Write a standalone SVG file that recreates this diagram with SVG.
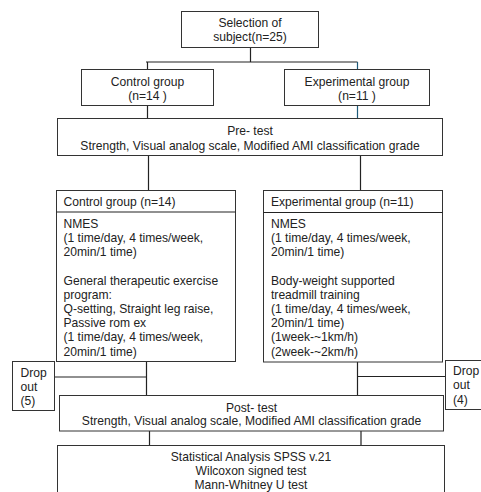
<svg xmlns="http://www.w3.org/2000/svg" width="481" height="492" viewBox="0 0 481 492">
<style>
.box{fill:#fff;stroke:#333;stroke-width:1}
.ln{fill:none;stroke:#222;stroke-width:1.2}
.bl{stroke:#1d5a7a}
text{font-family:"Liberation Sans",Arial,sans-serif;font-size:12.1px;fill:#222}
.c{text-anchor:middle}
</style>
<rect width="481" height="492" fill="#fff"/>
<g id="connectors">
<path class="ln" d="M250.5 47.5V62M146 62H357.5M147.5 62V69.5M147.5 105.5V118.5M148.5 155.5V190.5M360.5 155.5V190.5M146.5 361.5V395.5M54.5 377H146.5M357.5 362V395.5M357.5 376.5H445.5M149.5 431V445.5M361 431V445.5"/>
<path class="ln bl" d="M357.5 62V69.5M357.5 105.5V118.5"/>
</g>
<g id="selection">
<rect class="box" x="181.5" y="11.5" width="137" height="36"/>
<text class="c"><tspan x="250" y="27">Selection of</tspan><tspan x="250" y="41">subject(n=25)</tspan></text>
</g>
<g id="control1">
<rect class="box" x="81.5" y="69.5" width="132" height="36"/>
<text class="c"><tspan x="147.5" y="85.5">Control group</tspan><tspan x="147.5" y="100">(n=14 )</tspan></text>
</g>
<g id="experimental1">
<rect class="box" x="284.5" y="69.5" width="145" height="36"/>
<text class="c"><tspan x="357" y="85.5">Experimental group</tspan><tspan x="357" y="100">(n=11 )</tspan></text>
</g>
<g id="pretest">
<rect class="box" x="57.5" y="118.5" width="385" height="37"/>
<text class="c"><tspan x="250" y="135">Pre- test</tspan><tspan x="250" y="150">Strength, Visual analog scale, Modified AMI classification grade</tspan></text>
</g>
<g id="control2">
<rect class="box" x="56.5" y="190.5" width="179" height="171"/>
<path class="ln" d="M56.5 212H235.5"/>
<text x="63.5" y="206">Control group (n=14)</text>
<text><tspan x="63.5" y="227.7">NMES</tspan><tspan x="63.5" y="241.9">(1 time/day, 4 times/week,</tspan><tspan x="63.5" y="256.1">20min/1 time)</tspan><tspan x="63.5" y="284.5">General therapeutic exercise</tspan><tspan x="63.5" y="298.7">program:</tspan><tspan x="63.5" y="312.9">Q-setting, Straight leg raise,</tspan><tspan x="63.5" y="327.1">Passive rom ex</tspan><tspan x="63.5" y="341.3">(1 time/day, 4 times/week,</tspan><tspan x="63.5" y="355.5">20min/1 time)</tspan></text>
</g>
<g id="experimental2">
<rect class="box" x="263.5" y="190.5" width="179" height="171.5"/>
<path class="ln" d="M263.5 212.5H442.5"/>
<text x="271" y="206">Experimental group (n=11)</text>
<text><tspan x="271" y="227.7">NMES</tspan><tspan x="271" y="241.9">(1 time/day, 4 times/week,</tspan><tspan x="271" y="256.1">20min/1 time)</tspan><tspan x="271" y="284.5">Body-weight supported</tspan><tspan x="271" y="298.7">treadmill training</tspan><tspan x="271" y="312.9">(1 time/day, 4 times/week,</tspan><tspan x="271" y="327.1">20min/1 time)</tspan><tspan x="271" y="341.3">(1week-~1km/h)</tspan><tspan x="271" y="355.5">(2week-~2km/h)</tspan></text>
</g>
<g id="dropout-left">
<rect class="box" x="12.5" y="361.5" width="42" height="49"/>
<text><tspan x="20.5" y="376.5">Drop</tspan><tspan x="20.5" y="390.8">out</tspan><tspan x="20.5" y="405.1">(5)</tspan></text>
</g>
<g id="dropout-right">
<rect class="box" x="445.5" y="360.5" width="60" height="49"/>
<text><tspan x="453" y="375.4">Drop</tspan><tspan x="453" y="389.4">out</tspan><tspan x="453" y="404.2">(4)</tspan></text>
</g>
<g id="posttest">
<rect class="box" x="59.5" y="395.5" width="384" height="35.5"/>
<text class="c"><tspan x="251.5" y="411.7">Post- test</tspan><tspan x="251.5" y="425.4">Strength, Visual analog scale, Modified AMI classification grade</tspan></text>
</g>
<g id="statistics">
<rect class="box" x="57.5" y="445.5" width="387" height="60"/>
<text class="c"><tspan x="251" y="461">Statistical Analysis SPSS v.21</tspan><tspan x="251" y="475">Wilcoxon signed test</tspan><tspan x="251" y="489">Mann-Whitney U test</tspan></text>
</g>
</svg>
